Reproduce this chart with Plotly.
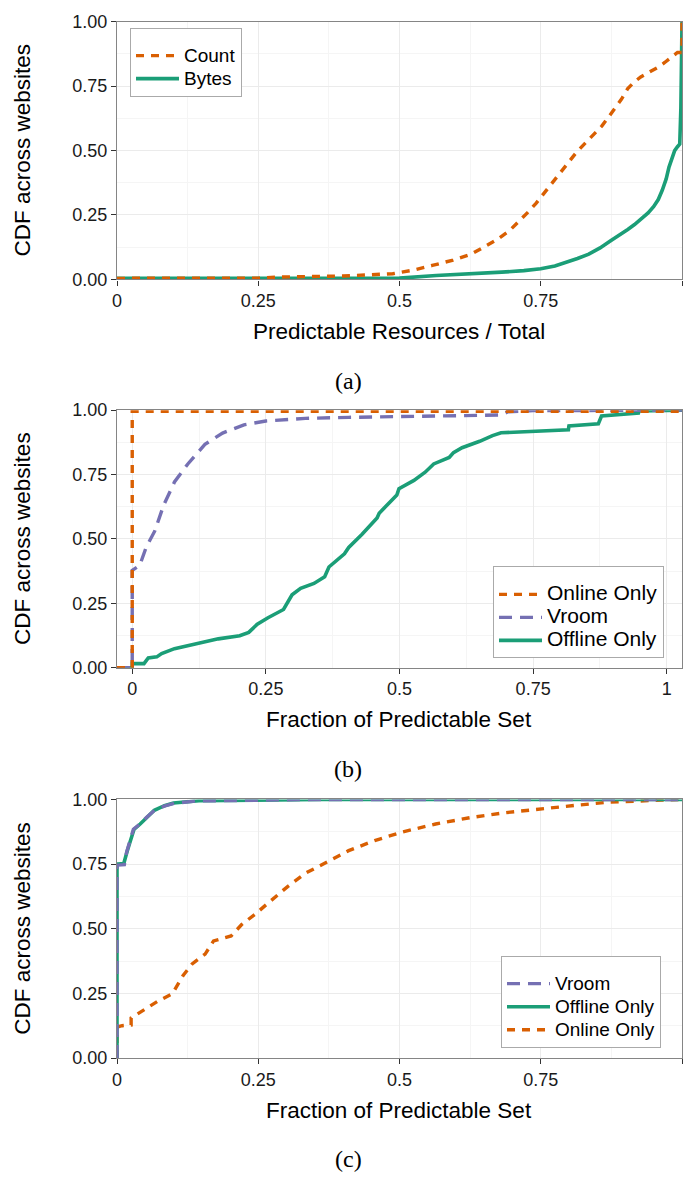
import plotly.graph_objects as go

# ---------------- data ----------------
# Panel (a)
a_count_x = [0, 0.25, 0.288, 0.40, 0.488, 0.525, 0.558, 0.595, 0.627, 0.650, 0.673, 0.695, 0.712,
             0.728, 0.742, 0.765, 0.780, 0.796, 0.812, 0.827, 0.843, 0.858, 0.870, 0.881, 0.893,
             0.904, 0.915, 0.927, 0.943, 0.958, 0.970, 0.981, 0.992, 1.0, 1.0]
a_count_y = [0.004, 0.005, 0.009, 0.013, 0.022, 0.036, 0.054, 0.075, 0.098, 0.125, 0.155, 0.19, 0.225,
             0.262, 0.296, 0.359, 0.405, 0.448, 0.49, 0.525, 0.562, 0.595, 0.63, 0.665, 0.70,
             0.741, 0.765, 0.786, 0.805, 0.824, 0.843, 0.862, 0.881, 0.881, 1.0]
a_bytes_x = [0, 0.5, 0.565, 0.62, 0.681, 0.72, 0.75, 0.775, 0.796, 0.815, 0.835, 0.855, 0.873,
             0.89, 0.904, 0.916, 0.927, 0.94, 0.95, 0.958, 0.965, 0.972, 0.977, 0.982, 0.987,
             0.992, 0.996, 0.998, 1.0]
a_bytes_y = [0.004, 0.005, 0.015, 0.02, 0.028, 0.034, 0.041, 0.052, 0.066, 0.081, 0.098, 0.122, 0.149,
             0.172, 0.194, 0.213, 0.232, 0.258, 0.283, 0.31, 0.346, 0.39, 0.436, 0.47, 0.5,
             0.515, 0.525, 0.665, 1.0]

# Panel (b)
b_online_x = [-0.0285, 0, 0, 1.0285]
b_online_y = [0, 0, 0.995, 0.995]
b_vroom_x = [-0.0285, 0, 0, 0.014, 0.026, 0.042, 0.059, 0.079, 0.104, 0.136, 0.169, 0.209,
             0.25, 0.324, 0.405, 0.487, 0.568, 0.69, 0.703, 0.731, 0.75, 1.0285]
b_vroom_y = [0, 0, 0.378, 0.397, 0.467, 0.53, 0.632, 0.721, 0.791, 0.867, 0.911, 0.943,
             0.958, 0.968, 0.972, 0.975, 0.978, 0.981, 0.994, 0.997, 0.998, 1.0]
b_offline_x = [-0.0285, 0, 0, 0.022, 0.030, 0.046, 0.055, 0.079, 0.12, 0.161, 0.201, 0.218,
               0.234, 0.254, 0.283, 0.299, 0.315, 0.34, 0.36, 0.368, 0.397, 0.405, 0.43,
               0.458, 0.462, 0.495, 0.499, 0.527, 0.548, 0.564, 0.593, 0.601, 0.617, 0.65,
               0.674, 0.69, 0.816, 0.817, 0.872, 0.878, 0.947, 0.948, 1.0285]
b_offline_y = [0, 0, 0.016, 0.016, 0.038, 0.042, 0.055, 0.074, 0.093, 0.112, 0.124, 0.137,
               0.169, 0.194, 0.226, 0.283, 0.308, 0.327, 0.353, 0.391, 0.442, 0.467, 0.518,
               0.581, 0.6, 0.67, 0.695, 0.727, 0.759, 0.791, 0.816, 0.835, 0.854, 0.879,
               0.901, 0.912, 0.924, 0.939, 0.947, 0.977, 0.989, 0.997, 1.0]

# Panel (c)
c_vroom_x = [0, 0, 0.0015, 0.013, 0.017, 0.029, 0.040, 0.052, 0.067, 0.085, 0.102, 0.14, 0.256, 0.35, 1.0]
c_vroom_y = [0, 0.746, 0.746, 0.748, 0.796, 0.885, 0.904, 0.93, 0.959, 0.975, 0.985, 0.994, 0.997, 1.0, 1.0]
c_offline_x = [0, 0, 0.002, 0.012, 0.018, 0.03, 0.041, 0.053, 0.066, 0.084, 0.1, 0.145, 0.26, 0.36, 1.0]
c_offline_y = [0, 0.75, 0.75, 0.752, 0.8, 0.884, 0.905, 0.932, 0.958, 0.976, 0.986, 0.995, 0.998, 1.0, 1.0]
c_online_x = [0, 0, 0.009, 0.025, 0.025, 0.048, 0.071, 0.098, 0.109, 0.117, 0.133, 0.156,
              0.171, 0.202, 0.221, 0.244, 0.271, 0.302, 0.333, 0.372, 0.41, 0.456, 0.503,
              0.564, 0.626, 0.688, 0.749, 0.811, 0.873, 0.95, 1.0]
c_online_y = [0, 0.12, 0.125, 0.128, 0.155, 0.186, 0.218, 0.249, 0.288, 0.319, 0.364, 0.402,
              0.453, 0.472, 0.517, 0.555, 0.606, 0.663, 0.714, 0.758, 0.802, 0.841, 0.873,
              0.905, 0.93, 0.949, 0.964, 0.977, 0.99, 0.997, 1.0]

x_titles = ["Predictable Resources / Total", "Fraction of Predictable Set", "Fraction of Predictable Set"]
y_title = "CDF across websites"
captions = ["(a)", "(b)", "(c)"]

# ---------------- styling ----------------
W, H = 683, 1185
L, R = 117, 1
ORANGE, GREEN, PURPLE = "#D95F02", "#1B9E77", "#7570B3"
DOT = "8px,7px"
DASH = "13px,8px"
FONT = "Liberation Sans, Arial, sans-serif"
SERIF = "Liberation Serif, Times New Roman, serif"
LEG_GLYPH = {1: 19, 2: 21, 3: 19}

panels = [(12, 274), (407, 669), (803, 1066)]  # pixel top/bottom of plot areas


def py(p):
    return 1 - p / H


def px(p):
    return (p - L) / (W - L - R)


fig = go.Figure()


def add(x, y, name, color, dash, width, idx):
    sfx = "" if idx == 1 else str(idx)
    label = f'<span style="font-size:{LEG_GLYPH[idx]}px">{name}</span>'
    fig.add_trace(go.Scatter(x=x, y=y, mode="lines", name=label,
                             line=dict(color=color, dash=dash, width=width),
                             xaxis="x" + sfx, yaxis="y" + sfx,
                             legend="legend" + sfx, hoverinfo="skip"))


# (a)
add(a_bytes_x, a_bytes_y, "Bytes", GREEN, "solid", 3.6, 1)
add(a_count_x, a_count_y, "Count", ORANGE, DOT, 3.4, 1)
# (b)
add(b_offline_x, b_offline_y, "Offline Only", GREEN, "solid", 3.6, 2)
add(b_vroom_x, b_vroom_y, "Vroom", PURPLE, DASH, 3.4, 2)
add(b_online_x, b_online_y, "Online Only", ORANGE, DOT, 3.4, 2)
# (c)
add(c_online_x, c_online_y, "Online Only", ORANGE, DOT, 3.4, 3)
add(c_offline_x, c_offline_y, "Offline Only", GREEN, "solid", 3.6, 3)
add(c_vroom_x, c_vroom_y, "Vroom", PURPLE, DASH, 3.4, 3)

xranges = [[0, 1], [-0.0285, 1.0285], [0, 1]]

layout = dict(width=W, height=H, margin=dict(l=L, r=R, t=0, b=0),
              paper_bgcolor="white", plot_bgcolor="white",
              font=dict(family=FONT, color="#1a1a1a", size=18),
              showlegend=True)

axis_common = dict(showline=True, mirror=True, linecolor="#858585", linewidth=1.3,
                   ticks="outside", ticklen=5, tickwidth=1.1, tickcolor="#333333",
                   showgrid=True, gridcolor="#EBEBEB", gridwidth=1.1, zeroline=False,
                   tickfont=dict(size=18, color="#1a1a1a", family=FONT),
                   minor=dict(dtick=0.125, tick0=0, showgrid=True, gridcolor="#F5F5F5",
                              gridwidth=0.7, ticks=""))

annotations = []
for i, (top, bot) in enumerate(panels):
    sfx = "" if i == 0 else str(i + 1)
    layout["xaxis" + sfx] = dict(axis_common, domain=[0, 1], range=xranges[i],
                                 anchor="y" + sfx, tickmode="linear", tick0=0, dtick=0.25)
    layout["yaxis" + sfx] = dict(axis_common, domain=[py(bot), py(top)], range=[0, 1],
                                 anchor="x" + sfx, tickmode="linear", tick0=0, dtick=0.25,
                                 tickformat=".2f")
    annotations.append(dict(text=y_title, textangle=-90, xref="paper", yref="paper",
                            x=px(23), y=py((top + bot) / 2), xanchor="center", yanchor="middle",
                            showarrow=False, font=dict(size=22.5, family=FONT, color="#000")))
    annotations.append(dict(text=x_titles[i], xref="paper", yref="paper",
                            x=px(399), y=py(bot + 53), xanchor="center", yanchor="middle",
                            showarrow=False, font=dict(size=22.5, family=FONT, color="#000")))
    annotations.append(dict(text=captions[i], xref="paper", yref="paper",
                            x=px(348), y=py(bot + 103), xanchor="center", yanchor="middle",
                            showarrow=False, font=dict(size=24, family=SERIF, color="#000")))

leg_common = dict(bgcolor="white", bordercolor="#aaaaaa", borderwidth=1,
                  font=dict(size=15.4, family=FONT, color="#000"),
                  title=dict(text=" ", font=dict(size=8)),
                  traceorder="reversed", itemwidth=43, xanchor="left", yanchor="top")
layout["legend"] = dict(leg_common, x=px(130), y=py(18))
layout["legend2"] = dict(leg_common, x=px(493), y=py(566))
layout["legend3"] = dict(leg_common, x=px(501), y=py(962))
layout["annotations"] = annotations

fig.update_layout(**layout)
fig.write_html("out.html")
